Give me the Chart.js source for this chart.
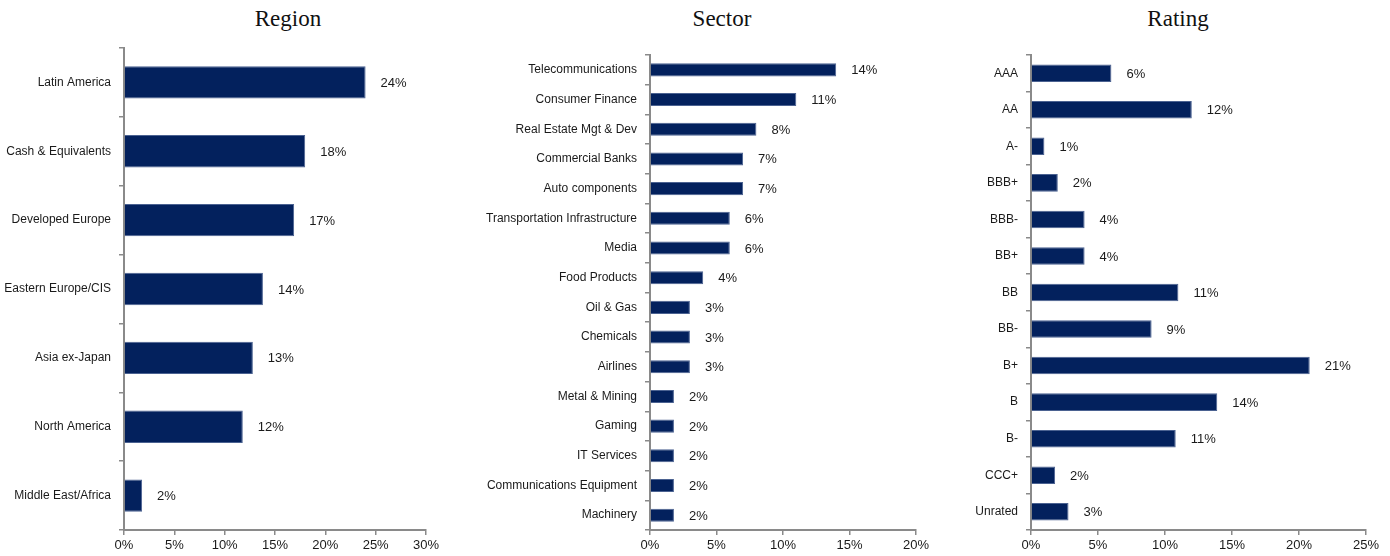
<!DOCTYPE html>
<html>
<head>
<meta charset="utf-8">
<script src="https://cdn.jsdelivr.net/npm/chart.js@4.4.1/dist/chart.umd.min.js"></script>
<style>
html,body{margin:0;padding:0;background:#fff;width:1390px;height:556px;overflow:hidden}
.box{position:absolute;top:0;height:556px}
.ttl{position:absolute;top:6px;width:300px;margin-left:-150px;text-align:center;font:23px "Liberation Serif",Georgia,serif;color:#111}
</style>
</head>
<body>
<div class="ttl" style="left:288px">Region</div>
<div class="ttl" style="left:722px">Sector</div>
<div class="ttl" style="left:1178px">Rating</div>
<div class="box" style="left:0;width:576px"><canvas id="cRegion"></canvas></div>
<div class="box" style="left:450px;width:544px"><canvas id="cSector"></canvas></div>
<div class="box" style="left:966px;width:424px"><canvas id="cRating"></canvas></div>
<script>
// portfolio breakdown: region / sector / rating
const regionLabels=['Latin America','Cash & Equivalents','Developed Europe','Eastern Europe/CIS','Asia ex-Japan','North America','Middle East/Africa'];
const regionValues=[24,18,16.9,13.8,12.8,11.8,1.8];
const regionTicks=[0,5,10,15,20,25,30];

const sectorLabels=['Telecommunications','Consumer Finance','Real Estate Mgt & Dev','Commercial Banks','Auto components','Transportation Infrastructure','Media','Food Products','Oil & Gas','Chemicals','Airlines','Metal & Mining','Gaming','IT Services','Communications Equipment','Machinery'];
const sectorValues=[14,11,8,7,7,6,6,4,3,3,3,1.8,1.8,1.8,1.8,1.8];
const sectorTicks=[0,5,10,15,20];

const ratingLabels=['AAA','AA','A-','BBB+','BBB-','BB+','BB','BB-','B+','B','B-','CCC+','Unrated'];
const ratingValues=[6,12,1,2,4,4,11,9,20.8,13.9,10.8,1.8,2.8];
const ratingTicks=[0,5,10,15,20,25];

(function(){
  const NAVY='#03215d', AXIS='#8a8a8a', TXT='#1a1a1a';
  const SANS='"Liberation Sans", Arial, sans-serif';
  // value labels right of each bar
  const barLabels={id:'barLabels',afterDatasetsDraw(ch){
    const ctx=ch.ctx; const meta=ch.getDatasetMeta(0); const vals=ch.data.datasets[0].data;
    ctx.save(); ctx.font='13px '+SANS; ctx.fillStyle=TXT; ctx.textAlign='left'; ctx.textBaseline='middle';
    meta.data.forEach((b,i)=>{ ctx.fillText(Math.round(vals[i])+'%', b.x+15, b.y+1); });
    ctx.restore();
  }};
  function make(id,labels,vals,ticks,o){
    const el=document.getElementById(id);
    return new Chart(el,{type:'bar',
      data:{labels,datasets:[{data:vals,backgroundColor:NAVY,borderColor:'#4b6291',borderWidth:1,barPercentage:o.bar,categoryPercentage:1}]},
      options:{indexAxis:'y',responsive:true,maintainAspectRatio:false,animation:false,
        layout:{padding:{left:0,right:o.right,top:o.top,bottom:0}},
        plugins:{legend:{display:false},tooltip:{enabled:false}},
        scales:{
          x:{min:ticks[0],max:ticks[ticks.length-1],
            afterBuildTicks:s=>{s.ticks=ticks.map(v=>({value:v}));},
            afterFit:s=>{s.height=26;},
            border:{color:AXIS,width:2},
            grid:{drawOnChartArea:false,drawTicks:true,tickLength:5,color:AXIS,lineWidth:1.5},
            ticks:{color:TXT,padding:3,font:{family:SANS,size:13},callback:v=>v+'%'}},
          y:{afterFit:s=>{s.width=o.left;},
            border:{color:AXIS,width:2},
            grid:{offset:true,drawOnChartArea:false,tickLength:5,color:AXIS,lineWidth:1.5},
            ticks:{color:TXT,padding:8,autoSkip:false,font:{family:SANS,size:12}}}
        }},
      plugins:[barLabels]});
  }
  make('cRegion',regionLabels,regionValues,regionTicks,{left:124,right:150,top:48,bar:0.47});
  make('cSector',sectorLabels,sectorValues,sectorTicks,{left:200,right:78,top:55,bar:0.44});
  make('cRating',ratingLabels,ratingValues,ratingTicks,{left:65,right:24,top:55,bar:0.48});
})();
</script>
</body>
</html>
